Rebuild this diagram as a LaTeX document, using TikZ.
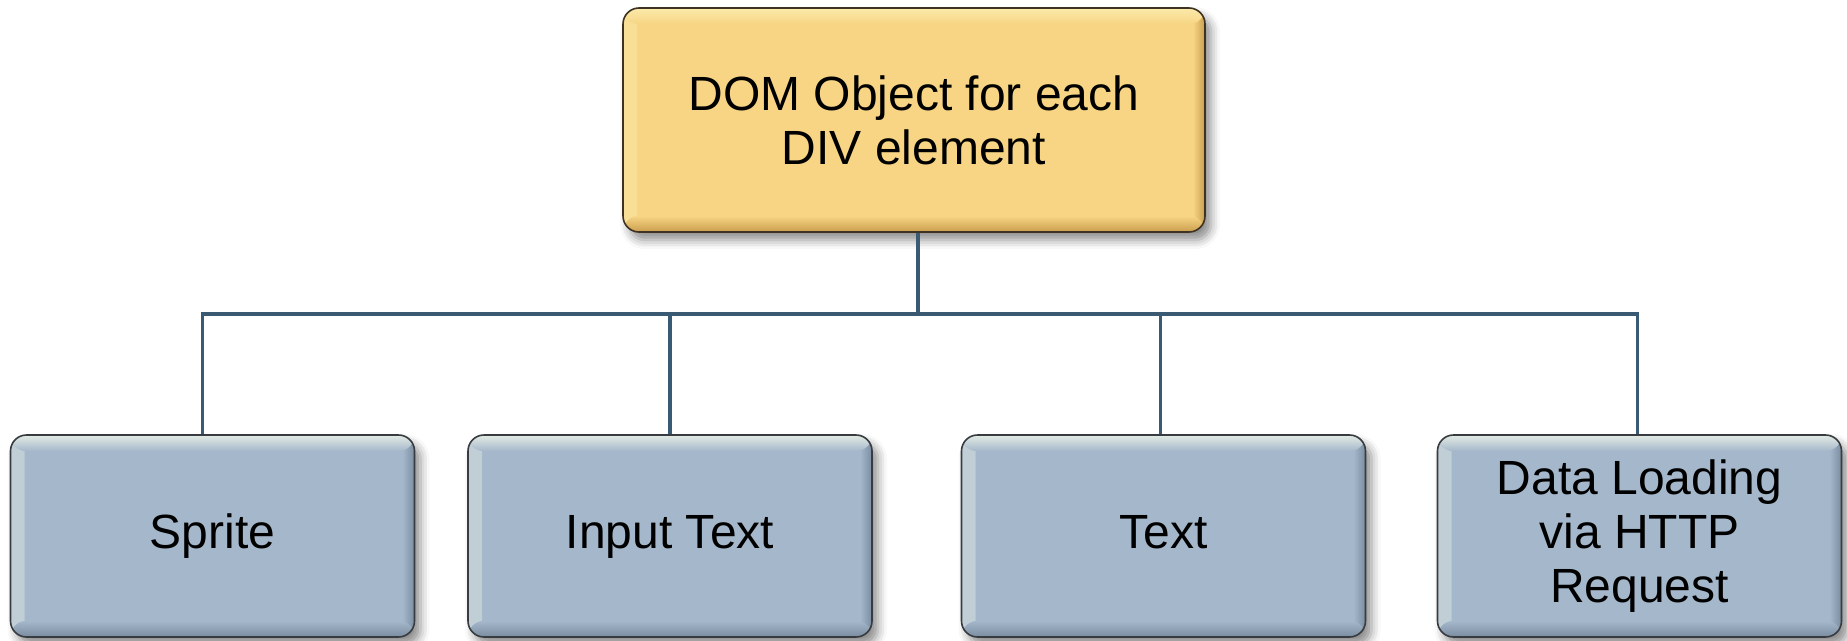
\documentclass[tikz,border=0pt]{standalone}
\usepackage{fontspec}
\setmainfont{Liberation Sans}
\usetikzlibrary{shadows.blur}

\definecolor{goldbase}{HTML}{F7D584}
\definecolor{goldhi}{HTML}{FBEAAA}
\definecolor{golddk}{HTML}{C99D4E}
\definecolor{goldline}{HTML}{3E3222}
\definecolor{bluebase}{HTML}{A5B7CB}
\definecolor{bluehi}{HTML}{E3EBE3}
\definecolor{bluedk}{HTML}{7A8CA0}
\definecolor{blueline}{HTML}{383C40}
\definecolor{connline}{HTML}{3A5A74}

\tikzset{
  bevel/.style n args={3}{
    path picture={
      \fill[left color=#2!45!#1, right color=#1]
        (path picture bounding box.north west) rectangle ([xshift=14pt]path picture bounding box.south west);
      \fill[left color=#1, right color=#3]
        ([xshift=-12pt]path picture bounding box.north east) rectangle (path picture bounding box.south east);
      \fill[top color=#1, bottom color=#3]
        ([yshift=16pt]path picture bounding box.south west) rectangle (path picture bounding box.south east);
      \fill[top color=#2, bottom color=#1]
        (path picture bounding box.north west) rectangle ([yshift=-16pt]path picture bounding box.north east);
    }
  },
  boxbase/.style={
    rounded corners=16pt, line width=1.6pt, align=center,
    font=\fontsize{48}{54}\selectfont, text=black, inner sep=0pt,
    blur shadow={shadow xshift=6pt, shadow yshift=-8pt,
                 shadow opacity=45, shadow blur radius=9pt}
  },
  topbox/.style={boxbase, fill=goldbase, draw=goldline,
    bevel={goldbase}{goldhi}{golddk},
    minimum width=582pt, minimum height=224pt},
  leafbox/.style={boxbase, fill=bluebase, draw=blueline,
    bevel={bluebase}{bluehi}{bluedk},
    minimum width=404pt, minimum height=202pt},
  oneline/.style={text height=35pt, text depth=10pt},
  conn/.style={draw=connline, line width=3.2pt}
}

\begin{document}
\begin{tikzpicture}[x=1pt, y=-1pt]
  \useasboundingbox (0,0) rectangle (1847,640);

  % root and its four children
  \node[topbox] (root) at (914,120) {DOM Object for each\\DIV element};

  \node[leafbox, oneline] (b1) at (212.5,536) {Sprite};
  \node[leafbox, oneline] (b2) at (670,536) {Input Text};
  \node[leafbox, oneline] (b3) at (1163.5,536) {Text};
  \node[leafbox] (b4) at (1639.5,536) {Data Loading\\via HTTP\\Request};

  % tree connectors
  \coordinate (hub) at (918,314);
  \draw[conn] ([xshift=4pt]root.south) -- (hub);
  \draw[conn] ([xshift=-10pt]b1.north) |- (hub) -| ([xshift=-2pt]b4.north);
  \draw[conn] (b2.north) -- (b2.north |- hub);
  \draw[conn] ([xshift=-3pt]b3.north) -- ([xshift=-3pt]b3.north |- hub);
\end{tikzpicture}
\end{document}
